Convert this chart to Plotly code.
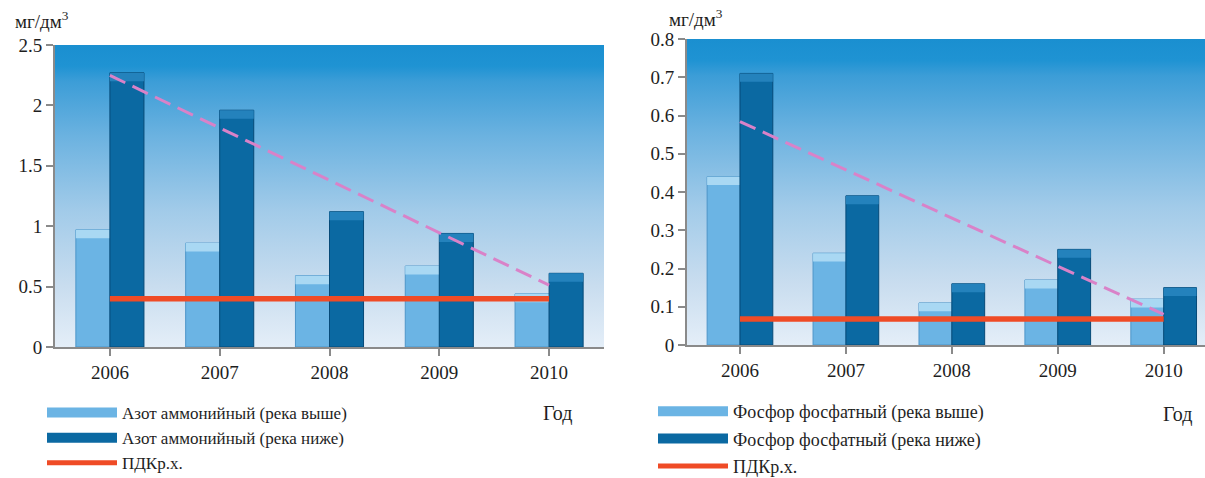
import numpy as np
import plotly.graph_objects as go

# Years on the category axis
years = ["2006", "2007", "2008", "2009", "2010"]

# Ammonium nitrogen, mg/dm3
nh4_upstream = [0.97, 0.86, 0.59, 0.67, 0.44]
nh4_downstream = [2.27, 1.96, 1.12, 0.94, 0.61]
nh4_mpc = 0.40

# Phosphate phosphorus, mg/dm3
po4_upstream = [0.44, 0.24, 0.11, 0.17, 0.12]
po4_downstream = [0.71, 0.39, 0.16, 0.25, 0.15]
po4_mpc = 0.068

LIGHT = "#6bb4e4"
LIGHT_EDGE = "#4d95c8"
LIGHT_CAP = "#a9d8f3"
DARK = "#0b69a2"
DARK_EDGE = "#064a78"
DARK_CAP = "#2482bc"
RED = "#ef4b26"
PINK = "#d982c8"
AXIS = "#8a8a8a"
FONT = "'Liberation Serif', 'Times New Roman', 'DejaVu Serif', serif"
TEXT = "#1e1e1e"

W, H = 1205, 478


def fx(px):
    return px / W


def fy(py):
    return 1 - py / H


def trend(values):
    xs = np.arange(len(values))
    k, b = np.polyfit(xs, values, 1)
    return k * xs + b


fig = go.Figure()

panels = [
    dict(xa="x", ya="y", leg="legend", up=nh4_upstream, down=nh4_downstream, mpc=nh4_mpc,
         cap=0.07, names=("Азот аммонийный (река выше)", "Азот аммонийный (река ниже)")),
    dict(xa="x2", ya="y2", leg="legend2", up=po4_upstream, down=po4_downstream, mpc=po4_mpc,
         cap=0.022, names=("Фосфор фосфатный (река выше)", "Фосфор фосфатный (река ниже)")),
]

for p in panels:
    xi = list(range(len(years)))
    for vals, col, edge, capcol, grp in ((p["up"], LIGHT, LIGHT_EDGE, LIGHT_CAP, "a"),
                                         (p["down"], DARK, DARK_EDGE, DARK_CAP, "b")):
        fig.add_trace(go.Bar(x=xi, y=vals, xaxis=p["xa"], yaxis=p["ya"],
                             marker=dict(color=col, line=dict(color=edge, width=1)),
                             showlegend=False, offsetgroup=grp))
        # bevelled top of each bar
        fig.add_trace(go.Bar(x=xi, y=[p["cap"]] * len(vals),
                             base=[v - p["cap"] for v in vals],
                             xaxis=p["xa"], yaxis=p["ya"],
                             marker=dict(color=capcol, line=dict(width=0)),
                             showlegend=False, offsetgroup=grp, hoverinfo="skip"))
    fig.add_trace(go.Scatter(x=xi, y=trend(p["down"]), xaxis=p["xa"], yaxis=p["ya"],
                             mode="lines", line=dict(color=PINK, width=3, dash="17px,8px"),
                             showlegend=False, hoverinfo="skip"))
    fig.add_trace(go.Scatter(x=xi, y=[p["mpc"]] * len(xi), xaxis=p["xa"], yaxis=p["ya"],
                             mode="lines", line=dict(color=RED, width=5.5),
                             showlegend=False))
    # legend entries
    for i, (nm, col, lw) in enumerate(((p["names"][0], LIGHT, 10),
                                       (p["names"][1], DARK, 10),
                                       ("ПДКр.х.", RED, 5))):
        fig.add_trace(go.Scatter(x=[None], y=[None], mode="lines", name=nm,
                                 line=dict(color=col, width=lw), legend=p["leg"],
                                 legendgroup=f"{p['leg']}{i}",
                                 xaxis=p["xa"], yaxis=p["ya"]))

gradient_svg = (
    "data:image/svg+xml;utf8,"
    "<svg xmlns='http://www.w3.org/2000/svg' width='100' height='100' preserveAspectRatio='none'>"
    "<defs><linearGradient id='g' x1='0' y1='0' x2='0' y2='1'>"
    "<stop offset='0' stop-color='%231a8fd0'/>"
    "<stop offset='0.07' stop-color='%231f93d3'/>"
    "<stop offset='0.12' stop-color='%233c9dd7'/>"
    "<stop offset='0.3' stop-color='%236bb2e0'/>"
    "<stop offset='0.55' stop-color='%23a2cbe9'/>"
    "<stop offset='0.8' stop-color='%23c9ddef'/>"
    "<stop offset='1' stop-color='%23e4eef8'/>"
    "</linearGradient></defs>"
    "<rect width='100' height='100' fill='url(%23g)'/></svg>"
)

images = []
for xa, ya in (("x", "y"), ("x2", "y2")):
    images.append(dict(source=gradient_svg, xref=f"{xa} domain", yref=f"{ya} domain",
                       x=0, y=1, sizex=1, sizey=1, xanchor="left", yanchor="top",
                       sizing="stretch", layer="below"))

axis_common = dict(showline=True, linecolor=AXIS, linewidth=2, ticks="outside",
                   tickcolor=AXIS, tickwidth=2, ticklen=7, showgrid=False, zeroline=False,
                   tickfont=dict(family=FONT, size=19, color=TEXT))

legend_common = dict(xanchor="left", yanchor="top", bgcolor="rgba(0,0,0,0)", itemwidth=70)

fig.update_layout(
    width=W, height=H,
    margin=dict(l=0, r=0, t=0, b=0, autoexpand=False),
    paper_bgcolor="white", plot_bgcolor="rgba(0,0,0,0)",
    barmode="group", bargap=0.38, bargroupgap=0.0,
    images=images,
    xaxis=dict(domain=[fx(55), fx(604)], anchor="y", range=[-0.5, 4.5],
               tickmode="array", tickvals=list(range(5)), ticktext=years,
               tickson="boundaries", **axis_common),
    yaxis=dict(domain=[fy(347), fy(45)], anchor="x", range=[0, 2.5],
               tickvals=[0, 0.5, 1, 1.5, 2, 2.5], ticktext=["0", "0.5", "1", "1.5", "2", "2.5"],
               **axis_common),
    xaxis2=dict(domain=[fx(687), 1.0], anchor="y2", range=[-0.5, 4.39],
                tickmode="array", tickvals=list(range(5)), ticktext=years,
                tickson="boundaries", **axis_common),
    yaxis2=dict(domain=[fy(345), fy(39)], anchor="x2", range=[0, 0.8],
                tickvals=[0, 0.1, 0.2, 0.3, 0.4, 0.5, 0.6, 0.7, 0.8],
                ticktext=["0", "0.1", "0.2", "0.3", "0.4", "0.5", "0.6", "0.7", "0.8"],
                **axis_common),
    legend=dict(x=fx(42), y=fy(395), tracegroupgap=0,
                font=dict(family=FONT, size=17, color=TEXT), **legend_common),
    legend2=dict(x=fx(653), y=fy(393), tracegroupgap=1,
                 font=dict(family=FONT, size=18, color=TEXT), **legend_common),
    annotations=[
        dict(text="мг/дм<sup>3</sup>", xref="paper", yref="paper", x=fx(13), y=fy(20),
             xanchor="left", yanchor="middle", showarrow=False,
             font=dict(family=FONT, size=19, color=TEXT)),
        dict(text="мг/дм<sup>3</sup>", xref="paper", yref="paper", x=fx(667), y=fy(18),
             xanchor="left", yanchor="middle", showarrow=False,
             font=dict(family=FONT, size=19, color=TEXT)),
        dict(text="Год", xref="paper", yref="paper", x=fx(541), y=fy(413),
             xanchor="left", yanchor="middle", showarrow=False,
             font=dict(family=FONT, size=20, color=TEXT)),
        dict(text="Год", xref="paper", yref="paper", x=fx(1161), y=fy(414),
             xanchor="left", yanchor="middle", showarrow=False,
             font=dict(family=FONT, size=20, color=TEXT)),
    ],
)

fig.write_html("out.html")
